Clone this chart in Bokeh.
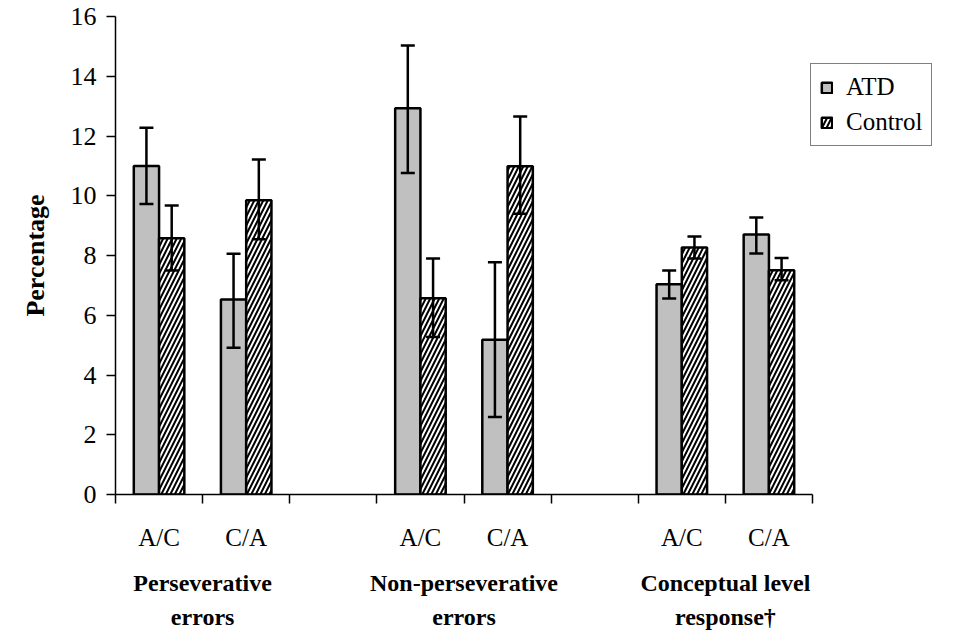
from bokeh.plotting import figure
from bokeh.models import (Range1d, LinearAxis, FixedTicker, Whisker, ColumnDataSource,
                          Legend, LegendItem, TeeHead)
from bokeh.embed import file_html
from bokeh.resources import INLINE

# ---- data ----
groups = ["Perseverative\nerrors", "Non-perseverative\nerrors", "Conceptual level\nresponse\u2020"]
conditions = ["A/C", "C/A"]
series_names = ["ATD", "Control"]
atd_mean = [11.0, 6.53, 12.93, 5.18, 7.04, 8.70]
atd_low = [9.72, 4.91, 10.76, 2.59, 6.56, 8.07]
atd_high = [12.28, 8.06, 15.03, 7.77, 7.50, 9.27]
ctl_mean = [8.58, 9.85, 6.57, 10.99, 8.27, 7.51]
ctl_low = [7.50, 8.54, 5.27, 9.40, 7.90, 7.17]
ctl_high = [9.67, 11.21, 7.90, 12.65, 8.64, 7.92]
y_ticks = [0, 2, 4, 6, 8, 10, 12, 14, 16]

SERIF = "Liberation Serif"
BAR_W = 0.29

# slot layout: each group occupies 3 slots (2 conditions + 1 gap)
slot_centers = []
cond_labels = []
for gi, g in enumerate(groups):
    for ci, c in enumerate(conditions):
        slot_centers.append(gi * 3 + ci + 0.5)
        cond_labels.append(c)
n_slots = len(groups) * 3 - 1

src = ColumnDataSource(dict(
    x_atd=[s - BAR_W / 2 for s in slot_centers],
    x_ctl=[s + BAR_W / 2 for s in slot_centers],
    atd=atd_mean, atd_lo=atd_low, atd_hi=atd_high,
    ctl=ctl_mean, ctl_lo=ctl_low, ctl_hi=ctl_high,
))

W, H = 950, 632
LEFT, TOP, AXIS_Y, AXIS_END = 115, 16, 494, 812
FRAME_RIGHT = 940
slot_px = (AXIS_END - LEFT) / n_slots
x_end = (FRAME_RIGHT - LEFT) / slot_px

p = figure(width=W, height=H, output_backend="svg", toolbar_location=None,
           x_range=Range1d(0, x_end), y_range=Range1d(0, 16),
           x_axis_location=None,
           min_border_left=LEFT, min_border_right=W - FRAME_RIGHT,
           min_border_top=TOP, min_border_bottom=H - AXIS_Y)
p.outline_line_color = None
p.grid.visible = False
p.background_fill_color = "white"
p.border_fill_color = "white"

# y axis
ya = p.yaxis[0]
ya.ticker = FixedTicker(ticks=y_ticks)
ya.minor_tick_line_color = None
ya.major_tick_in = 0
ya.major_tick_out = 9
ya.axis_line_width = 1.5
ya.major_tick_line_width = 1.5
ya.axis_line_color = "black"
ya.major_tick_line_color = "black"
ya.major_label_text_font = SERIF
ya.major_label_text_font_size = "26px"
ya.major_label_text_color = "black"
ya.major_label_standoff = 10
ya.axis_label = "Percentage"
ya.axis_label_text_font = SERIF
ya.axis_label_text_font_style = "bold"
ya.axis_label_text_font_size = "26px"
ya.axis_label_text_color = "black"
ya.axis_label_standoff = 18

# x axis: tick marks at slot boundaries, line limited to the slots
xa = LinearAxis(ticker=FixedTicker(ticks=list(range(0, n_slots + 1))), bounds=(0, n_slots))
xa.major_label_overrides = {i: "" for i in range(0, n_slots + 1)}
xa.major_label_text_font_size = "1px"
xa.major_label_standoff = 0
xa.minor_tick_line_color = None
xa.major_tick_in = 0
xa.major_tick_out = 9
xa.axis_line_width = 1.5
xa.major_tick_line_width = 1.5
p.add_layout(xa, "below")

# condition labels
xa2 = LinearAxis(ticker=FixedTicker(ticks=slot_centers))
xa2.major_label_overrides = {s: l for s, l in zip(slot_centers, cond_labels)}
xa2.axis_line_color = None
xa2.major_tick_line_color = None
xa2.minor_tick_line_color = None
xa2.major_tick_in = 0
xa2.major_tick_out = 0
xa2.major_label_text_font = SERIF
xa2.major_label_text_font_size = "25px"
xa2.major_label_text_color = "black"
xa2.major_label_standoff = 20
p.add_layout(xa2, "below")

# group labels
group_centers = [gi * 3 + 1 for gi in range(len(groups))]
xa3 = LinearAxis(ticker=FixedTicker(ticks=group_centers))
xa3.major_label_overrides = {c: g for c, g in zip(group_centers, groups)}
xa3.axis_line_color = None
xa3.major_tick_line_color = None
xa3.minor_tick_line_color = None
xa3.major_tick_in = 0
xa3.major_tick_out = 0
xa3.major_label_text_font = SERIF
xa3.major_label_text_font_style = "bold"
xa3.major_label_text_font_size = "24px"
xa3.major_label_text_line_height = 1.32
xa3.major_label_text_color = "black"
xa3.major_label_standoff = 16
p.add_layout(xa3, "below")

# bars
r_atd = p.vbar(x="x_atd", top="atd", width=BAR_W, source=src,
               fill_color="#C0C0C0", line_color="black", line_width=2.5)
r_ctl = p.vbar(x="x_ctl", top="ctl", width=BAR_W, source=src,
               fill_color="white", hatch_pattern="/", hatch_color="black",
               hatch_scale=9, hatch_weight=2, line_color="black", line_width=2.5)

# error bars
for base, lo, hi in (("x_atd", "atd_lo", "atd_hi"), ("x_ctl", "ctl_lo", "ctl_hi")):
    w = Whisker(source=src, base=base, lower=lo, upper=hi, line_width=2.5, line_color="black",
                level="overlay",
                upper_head=TeeHead(size=14, line_width=2.5, line_color="black"),
                lower_head=TeeHead(size=14, line_width=2.5, line_color="black"))
    p.add_layout(w)

legend = Legend(items=[LegendItem(label=series_names[0], renderers=[r_atd]),
                       LegendItem(label=series_names[1], renderers=[r_ctl])],
                location=(810 - LEFT, AXIS_Y - 146),
                label_text_font=SERIF, label_text_font_size="25px",
                label_text_color="black",
                glyph_width=13, glyph_height=13, label_standoff=13,
                label_height=26, spacing=7, padding=9, margin=0,
                border_line_color="black", border_line_width=1,
                background_fill_color="white", background_fill_alpha=1)
p.add_layout(legend, "center")

open("out.html", "w").write(file_html(p, INLINE))
